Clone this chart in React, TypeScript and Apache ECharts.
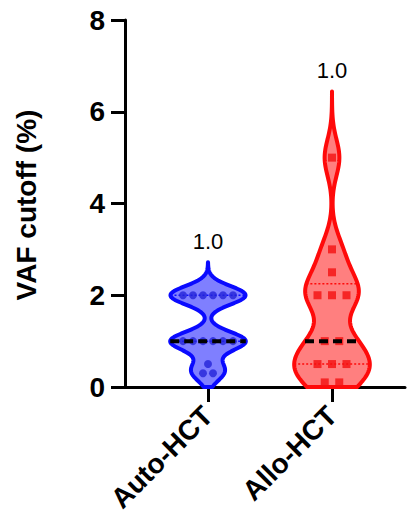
import React, { useEffect, useRef } from "react";
import * as echarts from "echarts";

// ---- data ----
const categories = ["Auto-HCT", "Allo-HCT"];
const autoValues = [2, 2, 2, 2, 2, 2, 1, 1, 1, 1, 1, 1, 0.5, 0.3, 0.3];
const alloValues = [5, 3, 2.5, 2, 2, 2, 1, 1, 0.5, 0.5, 0.5, 0.1, 0.1];
const groupLabels = ["1.0", "1.0"];
const yTicks = [0, 2, 4, 6, 8];
const yTitle = "VAF cutoff (%)";

// ---- estimator / style settings ----
const bandwidths = [0.2, 0.4];
const strokeColors = ["#0a0aff", "#ff0a0a"];
const fillColors = ["rgba(0,0,255,0.5)", "rgba(255,0,0,0.5)"];
const pointColors = ["#2424d8", "#f41010"];
const pointSymbols = ["circle", "rect"];
const FONT = "'Liberation Sans', Arial, Helvetica, sans-serif";
const MAX_HALF = 0.305;
const STEPS = 240;
const PX_PER_UNIT = 124;

type Profile = { top: number; ys: number[]; ws: number[] };

function buildProfile(values: number[], h: number): Profile {
  const top = Math.max(...values) + 3.6 * h;
  const ys: number[] = [];
  const ds: number[] = [];
  for (let i = 0; i <= STEPS; i++) {
    const y = (top * i) / STEPS;
    let d = 0;
    for (const v of values) {
      const z = (y - v) / h;
      d += Math.exp(-0.5 * z * z);
    }
    ys.push(y);
    ds.push(d);
  }
  const m = Math.max(...ds);
  return { top, ys, ws: ds.map((d) => (d / m) * MAX_HALF) };
}

function widthAt(p: Profile, y: number) {
  const f = (y / p.top) * STEPS;
  const i = Math.min(STEPS - 1, Math.max(0, Math.floor(f)));
  const t = f - i;
  return p.ws[i] * (1 - t) + p.ws[i + 1] * t;
}

function quantile(vals: number[], p: number) {
  const s = [...vals].sort((a, b) => a - b);
  const n = s.length;
  const pos = (n + 1) * p;
  if (pos <= 1) return s[0];
  if (pos >= n) return s[n - 1];
  const lo = Math.floor(pos);
  const fr = pos - lo;
  return s[lo - 1] + fr * (s[lo] - s[lo - 1]);
}

function spread(values: number[], center: number, spacing: number) {
  const counts = new Map<number, number>();
  values.forEach((v) => counts.set(v, (counts.get(v) || 0) + 1));
  const seen = new Map<number, number>();
  return values.map((v) => {
    const k = counts.get(v) as number;
    const i = seen.get(v) || 0;
    seen.set(v, i + 1);
    return [center + (i - (k - 1) / 2) * spacing, v];
  });
}

export default function App() {
  const ref = useRef<HTMLDivElement>(null);
  useEffect(() => {
    if (!ref.current) return;
    const chart = echarts.init(ref.current, undefined, { renderer: "svg" });
    const groups = [autoValues, alloValues];
    const profiles = groups.map((g, i) => buildProfile(g, bandwidths[i]));
    const stats = groups.map((g) => ({
      q1: quantile(g, 0.25),
      med: quantile(g, 0.5),
      q3: quantile(g, 0.75),
    }));
    const spacings = [10 / PX_PER_UNIT, 14.5 / PX_PER_UNIT];

    const violinItem = (params: any, api: any) => {
      const gi = params.dataIndex;
      const c = gi + 1;
      const p = profiles[gi];
      const left: number[][] = [];
      const right: number[][] = [];
      for (let i = 0; i <= STEPS; i++) {
        left.push(api.coord([c - p.ws[i], p.ys[i]]));
        right.push(api.coord([c + p.ws[i], p.ys[i]]));
      }
      const pts = left.concat(right.reverse());
      const children: any[] = [
        {
          type: "polygon",
          shape: { points: pts },
          style: {
            fill: fillColors[gi],
            stroke: strokeColors[gi],
            lineWidth: 4,
            lineJoin: "round",
          },
        },
      ];
      [stats[gi].q1, stats[gi].q3].forEach((q) => {
        const w = widthAt(p, q);
        const a = api.coord([c - w, q]);
        const b = api.coord([c + w, q]);
        children.push({
          type: "line",
          shape: { x1: a[0], y1: a[1], x2: b[0], y2: b[1] },
          style: { stroke: strokeColors[gi], lineWidth: 1.5, lineDash: [2, 2] },
        });
      });
      return { type: "group", children };
    };

    const overlayItem = (params: any, api: any) => {
      const gi = params.dataIndex;
      const c = gi + 1;
      const p = profiles[gi];
      const m = stats[gi].med;
      const w = widthAt(p, m);
      const a = api.coord([c - w, m]);
      const b = api.coord([c + w, m]);
      const tip = api.coord([c, p.top]);
      return {
        type: "group",
        children: [
          {
            type: "line",
            shape: { x1: a[0], y1: a[1], x2: b[0], y2: b[1] },
            style: { stroke: "#000", lineWidth: 4, lineDash: [9, 5] },
          },
          {
            type: "text",
            x: tip[0],
            y: tip[1] - 10,
            style: {
              text: groupLabels[gi],
              fontSize: 22,
              fontFamily: FONT,
              fill: "#000",
              align: "center",
              verticalAlign: "bottom",
            },
          },
        ],
      };
    };

    const catData = categories.map((_, i) => [i + 1, 0]);

    chart.setOption({
      animation: false,
      grid: {
        left: 125,
        right: 2,
        top: 20,
        bottom: 132,
        containLabel: false,
        outerBoundsMode: "none",
      },
      xAxis: {
        type: "value",
        min: 1 - 83 / PX_PER_UNIT,
        max: 2 + 73 / PX_PER_UNIT,
        splitLine: { show: false },
        axisLine: { show: true, onZero: false, lineStyle: { color: "#000", width: 3 } },
        axisTick: {
          show: true,
          customValues: [1, 2],
          length: 15,
          lineStyle: { color: "#000", width: 3 },
        },
        axisLabel: {
          show: true,
          customValues: [1, 2],
          formatter: (v: number) => categories[Math.round(v) - 1] || "",
          rotate: 45,
          margin: 24,
          fontSize: 28,
          fontWeight: "bold",
          fontFamily: FONT,
          color: "#000",
        },
      },
      yAxis: {
        type: "value",
        min: yTicks[0],
        max: yTicks[yTicks.length - 1],
        interval: 2,
        splitLine: { show: false },
        axisLine: { show: true, lineStyle: { color: "#000", width: 3 } },
        axisTick: { show: true, length: 14, lineStyle: { color: "#000", width: 3 } },
        axisLabel: {
          margin: 20,
          fontSize: 28,
          fontWeight: "bold",
          fontFamily: FONT,
          color: "#000",
        },
      },
      graphic: [
        {
          type: "text",
          x: 26,
          y: 205,
          rotation: Math.PI / 2,
          style: {
            text: yTitle,
            fontSize: 28,
            fontWeight: "bold",
            fontFamily: FONT,
            fill: "#000",
            align: "center",
            verticalAlign: "middle",
          },
        },
      ],
      series: [
        {
          type: "custom",
          renderItem: violinItem,
          data: catData,
          z: 1,
          clip: false,
        },
        ...groups.map((g, i) => ({
          type: "scatter",
          data: spread(g, i + 1, spacings[i]),
          symbol: pointSymbols[i],
          symbolSize: 8,
          itemStyle: { color: pointColors[i] },
          z: 2,
        })),
        {
          type: "custom",
          renderItem: overlayItem,
          data: catData,
          z: 3,
          clip: false,
        },
      ],
    });
    return () => chart.dispose();
  }, []);
  return (
    <div
      ref={ref}
      style={{ position: "fixed", left: 0, top: 0, width: 407, height: 519, background: "#fff" }}
    />
  );
}
